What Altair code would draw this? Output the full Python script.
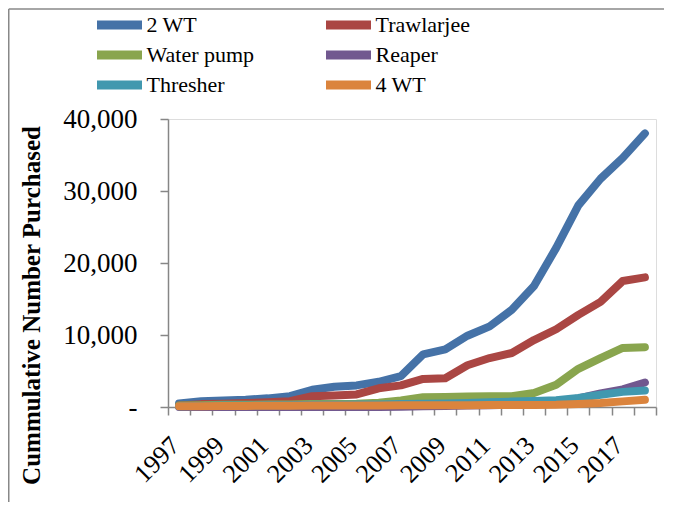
import altair as alt
import pandas as pd

years = list(range(1997, 2019))
series_names = ["2 WT", "Trawlarjee", "Water pump", "Reaper", "Thresher", "4 WT"]
series_colors = ["#4572A7", "#AA4643", "#89A54E", "#71588F", "#4198AF", "#DB843D"]

wt2 = [500, 800, 900, 1000, 1200, 1500, 2400, 2800, 3000, 3500, 4300, 7300, 8000, 9900,
       11200, 13500, 16800, 22100, 28000, 31700, 34600, 38000]
trawlarjee = [200, 400, 450, 550, 650, 800, 1500, 1600, 1750, 2600, 3000, 3900, 4000, 5800,
              6800, 7500, 9300, 10800, 12800, 14600, 17500, 18000]
water_pump = [200, 250, 300, 300, 350, 350, 400, 400, 450, 600, 900, 1350, 1400, 1450,
              1500, 1500, 1950, 3100, 5300, 6800, 8200, 8300]
reaper = [0, 0, 0, 0, 0, 0, 0, 0, 0, 0, 50, 100, 150, 200, 250, 300, 400, 700, 1200, 1900,
          2450, 3400]
thresher = [100, 150, 200, 200, 250, 250, 300, 300, 350, 350, 400, 450, 500, 550, 650, 750,
            850, 950, 1250, 1700, 2100, 2300]
wt4 = [100, 120, 150, 150, 170, 180, 200, 200, 210, 220, 230, 240, 250, 260, 270, 280, 290,
       300, 400, 550, 780, 1000]

y_ticks = [0, 10000, 20000, 30000, 40000]
x_label_years = list(range(1997, 2018, 2))
x_boundaries = [y - 0.5 for y in years] + [years[-1] + 0.5]

all_series = [wt2, trawlarjee, water_pump, reaper, thresher, wt4]
rows = []
for k, (name, vals) in enumerate(zip(series_names, all_series)):
    for yr, v in zip(years, vals):
        rows.append({"Year": yr, "Type": name, "Value": v, "k": k})
df = pd.DataFrame(rows)

FONT = "Liberation Serif"
GRAY = "#868686"

x_values = sorted(x_boundaries + x_label_years)

lines = alt.Chart(df).mark_line(
    strokeWidth=8, strokeCap="round", strokeJoin="round"
).encode(
    x=alt.X(
        "Year:Q",
        scale=alt.Scale(domain=[years[0] - 0.5, years[-1] + 0.5], nice=False, zero=False),
        axis=alt.Axis(
            values=x_values,
            title=None,
            grid=False,
            domainColor=GRAY,
            domainWidth=1.5,
            tickColor=GRAY,
            tickWidth=1.5,
            tickSize=8,
            tickOpacity={"condition": {"test": "datum.value % 1 == 0", "value": 0}, "value": 1},
            labelExpr="datum.value % 1 != 0 ? '' : format(datum.value, 'd')",
            labelAngle=315,
            labelAlign="right",
            labelBaseline="middle",
            labelPadding=26,
            labelOffset=-4,
            labelFont=FONT,
            labelFontSize=26,
            labelColor="black",
            labelOverlap=False,
            labelFlush=False,
            labelBound=False,
        ),
    ),
    y=alt.Y(
        "Value:Q",
        scale=alt.Scale(domain=[0, 40000], nice=False),
        axis=alt.Axis(
            values=y_ticks,
            title="Cummulative Number Purchased",
            titleFont=FONT,
            titleFontSize=25,
            titleFontWeight="bold",
            titleColor="black",
            titleAngle=270,
            titleAlign="center",
            titleBaseline="alphabetic",
            titleX=-129,
            titleY=186,
            grid=False,
            domainColor=GRAY,
            domainWidth=1.5,
            tickColor=GRAY,
            tickWidth=1.5,
            tickSize=8,
            labelExpr="datum.value == 0 ? '-' : format(datum.value, ',')",
            labelPadding=23,
            labelFont=FONT,
            labelFontSize=27,
            labelColor="black",
        ),
    ),
    color=alt.Color(
        "Type:N",
        scale=alt.Scale(domain=series_names, range=series_colors),
        sort=series_names,
        legend=alt.Legend(
            title=None,
            orient="none",
            direction="horizontal",
            legendX=-79.5,
            legendY=-105,
            columns=2,
            columnPadding=63,
            rowPadding=8,
            padding=0,
            clipHeight=22,
            symbolType="stroke",
            symbolSize=2025,
            symbolStrokeWidth=9,
            symbolOffset=4,
            labelOffset=0,
            labelFont=FONT,
            labelFontSize=22,
            labelColor="black",
            labelLimit=300,
        ),
    ),
    order=alt.Order("k:Q"),
)

frame_base = alt.Chart(pd.DataFrame({"f": [0]}))
frame_top = frame_base.mark_rule(stroke="#888888", strokeWidth=1.5).encode(
    x=alt.value(-159.25), x2=alt.value(496), y=alt.value(-110)
)
frame_left = frame_base.mark_rule(stroke="#888888", strokeWidth=1.5).encode(
    x=alt.value(-159.25), y=alt.value(-110), y2=alt.value(391)
)

chart = alt.layer(frame_top, frame_left, lines).properties(
    width=488,
    height=288,
    padding={"left": 160, "top": 111, "right": 11, "bottom": 95},
    autosize=alt.AutoSizeParams(type="none"),
).configure_view(stroke=None).configure(background="white")

chart.save("out.html", embed_options={"renderer": "svg", "actions": False})
